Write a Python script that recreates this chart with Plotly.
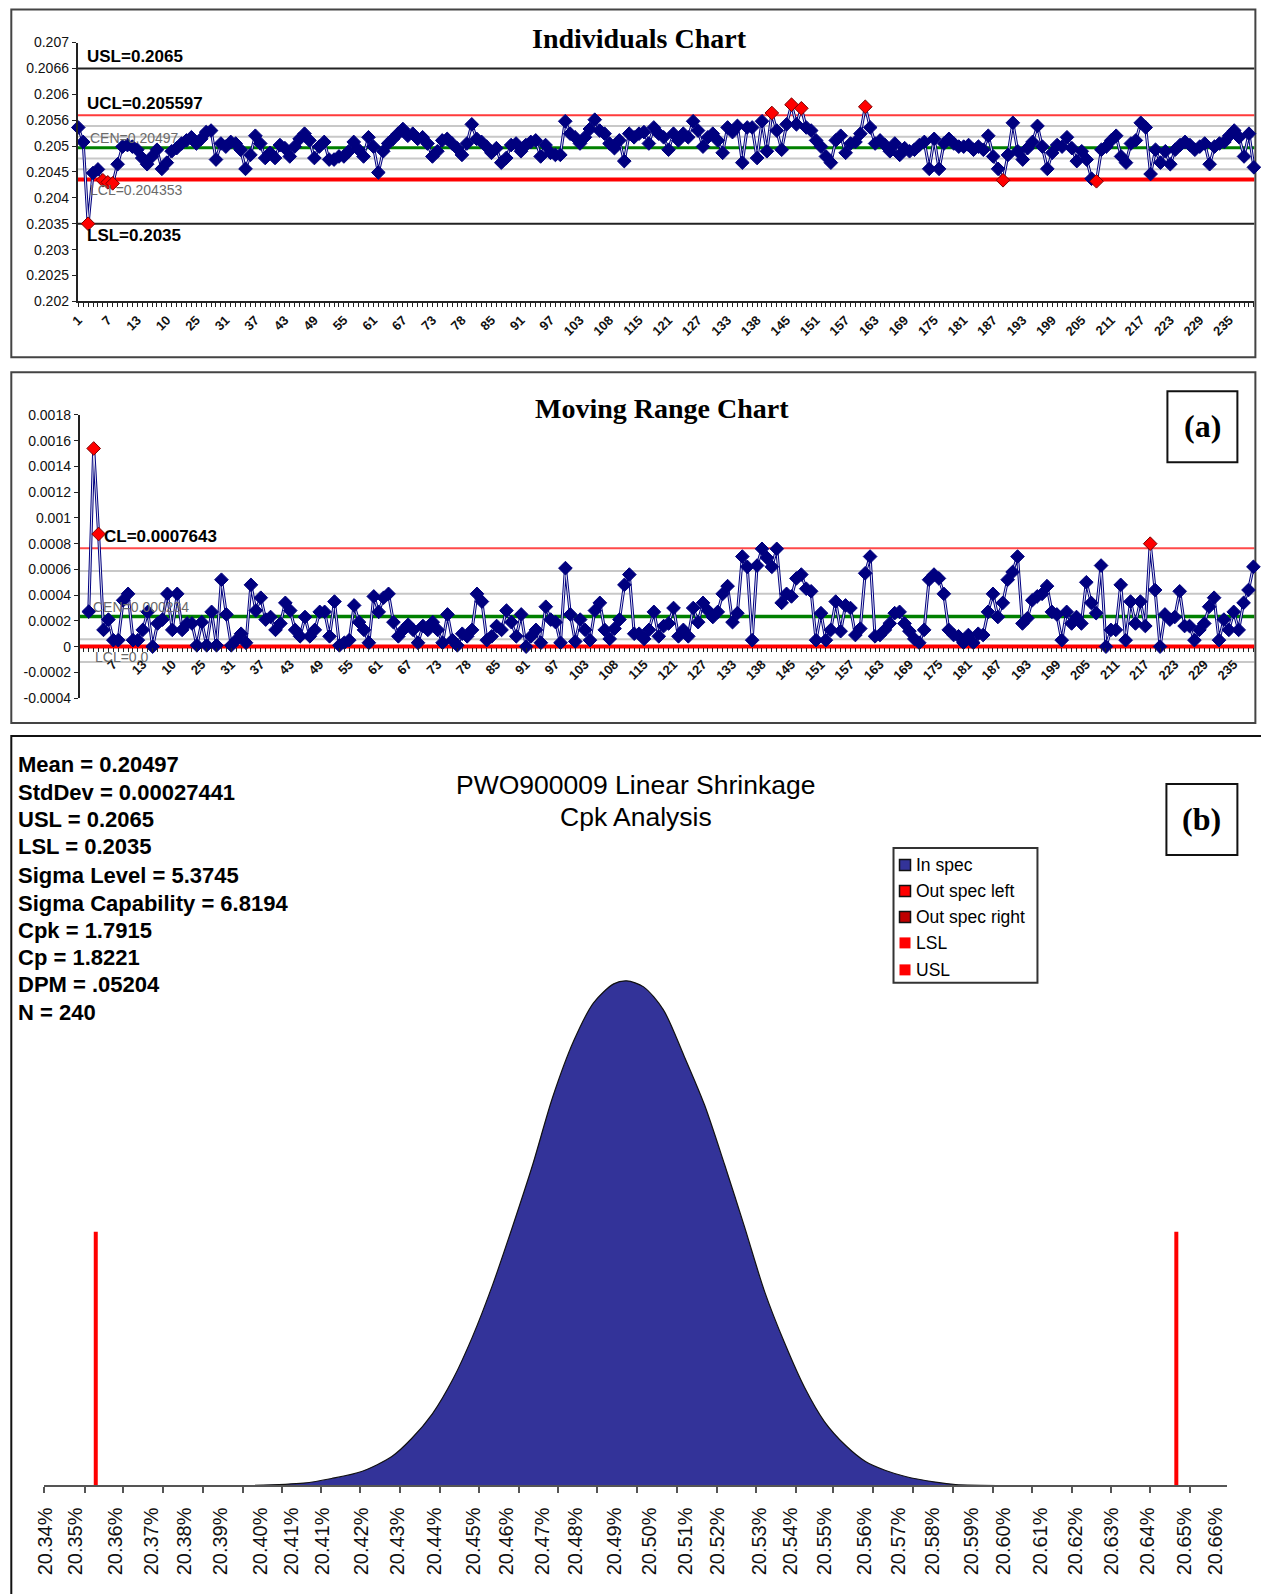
import plotly.graph_objects as go

W, H = 1261, 1594
# observed page-to-photo mapping (offset and scale) compensated here
OX, SX, OY, SY = 9.2, 0.9924, 8.4, 0.9907
def fx(t): return (t - OX) / SX
def fy(t): return (t - OY) / SY
def px(x): return fx(x) / W
def py(y): return 1 - fy(y) / H

SANS = "Liberation Sans, Arial, sans-serif"
SERIF = "Liberation Serif, Times New Roman, serif"
NARROW = "Liberation Sans Narrow, Arial Narrow, Liberation Sans, sans-serif"

# ---------------- Individuals chart data ----------------
ind_cats = list(range(1, 241))
ind_values = [
    0.20536, 0.20508, 0.20350, 0.20448, 0.20455, 0.20434, 0.20430, 0.20428, 0.20465, 0.20499,
    0.20502, 0.20499, 0.20493, 0.20477, 0.20465, 0.20480, 0.20493, 0.20456, 0.20468, 0.20490,
    0.20496, 0.20505, 0.20511, 0.20517, 0.20505, 0.20514, 0.20527, 0.20530, 0.20474, 0.20505,
    0.20499, 0.20508, 0.20505, 0.20493, 0.20456, 0.20483, 0.20520, 0.20505, 0.20477, 0.20487,
    0.20477, 0.20502, 0.20496, 0.20480, 0.20499, 0.20514, 0.20524, 0.20511, 0.20477, 0.20499,
    0.20508, 0.20474, 0.20474, 0.20480, 0.20480, 0.20490, 0.20508, 0.20493, 0.20480, 0.20517,
    0.20499, 0.20449, 0.20490, 0.20505, 0.20514, 0.20524, 0.20533, 0.20520, 0.20524, 0.20514,
    0.20517, 0.20505, 0.20480, 0.20490, 0.20511, 0.20514, 0.20505, 0.20496, 0.20483, 0.20505,
    0.20542, 0.20514, 0.20508, 0.20499, 0.20487, 0.20496, 0.20468, 0.20477, 0.20502, 0.20505,
    0.20490, 0.20502, 0.20508, 0.20511, 0.20480, 0.20502, 0.20487, 0.20483, 0.20483, 0.20548,
    0.20524, 0.20517, 0.20505, 0.20517, 0.20533, 0.20551, 0.20530, 0.20524, 0.20505, 0.20496,
    0.20511, 0.20471, 0.20524, 0.20517, 0.20524, 0.20527, 0.20505, 0.20536, 0.20524, 0.20517,
    0.20493, 0.20524, 0.20511, 0.20524, 0.20517, 0.20548, 0.20530, 0.20499, 0.20517, 0.20524,
    0.20511, 0.20487, 0.20536, 0.20527, 0.20539, 0.20468, 0.20536, 0.20536, 0.20477, 0.20548,
    0.20490, 0.20564, 0.20530, 0.20493, 0.20542, 0.20580, 0.20542, 0.20573, 0.20536, 0.20530,
    0.20511, 0.20499, 0.20480, 0.20468, 0.20511, 0.20520, 0.20487, 0.20505, 0.20508, 0.20524,
    0.20576, 0.20536, 0.20505, 0.20511, 0.20502, 0.20490, 0.20505, 0.20483, 0.20496, 0.20490,
    0.20493, 0.20502, 0.20508, 0.20456, 0.20514, 0.20456, 0.20505, 0.20514, 0.20505, 0.20499,
    0.20499, 0.20502, 0.20493, 0.20499, 0.20493, 0.20520, 0.20480, 0.20456, 0.20434, 0.20483,
    0.20545, 0.20490, 0.20474, 0.20496, 0.20508, 0.20539, 0.20499, 0.20456, 0.20487, 0.20502,
    0.20499, 0.20517, 0.20496, 0.20471, 0.20490, 0.20474, 0.20437, 0.20432, 0.20493, 0.20499,
    0.20511, 0.20520, 0.20480, 0.20468, 0.20505, 0.20511, 0.20545, 0.20536, 0.20446, 0.20493,
    0.20468, 0.20490, 0.20465, 0.20493, 0.20502, 0.20508, 0.20502, 0.20493, 0.20499, 0.20505,
    0.20465, 0.20499, 0.20505, 0.20508, 0.20520, 0.20530, 0.20517, 0.20480, 0.20524, 0.20459,
]
IND_USL, IND_UCL, IND_CEN, IND_LCL, IND_LSL = 0.2065, 0.205597, 0.20497, 0.204353, 0.2035

ind_label_pos = [1, 7, 13, 19, 25, 31, 37, 43, 49, 55, 61, 67, 73, 79, 85, 91, 97, 103, 109, 115,
                 121, 127, 133, 139, 145, 151, 157, 163, 169, 175, 181, 187, 193, 199, 205, 211,
                 217, 223, 229, 235]
ind_labels = ["1", "7", "13", "10", "25", "31", "37", "43", "49", "55", "61", "67", "73", "78",
              "85", "91", "97", "103", "108", "115", "121", "127", "133", "138", "145", "151",
              "157", "163", "169", "175", "181", "187", "193", "199", "205", "211", "217", "223",
              "229", "235"]
ind_ytick_vals = [0.207, 0.2065, 0.206, 0.2055, 0.205, 0.2045, 0.204, 0.2035, 0.203, 0.2025, 0.202]
ind_ytick_text = ["0.207", "0.2066", "0.206", "0.2056", "0.205", "0.2045", "0.204", "0.2035",
                  "0.203", "0.2025", "0.202"]

# ---------------- Moving range data ----------------
mr_cats = list(range(2, 240))
mr_values = [
    0.000272, 0.00154, 0.000875, 0.00013, 0.00021, 0.00005, 0.00005, 0.00036, 0.00041, 0.00005,
    0.00005, 0.00013, 0.00027, 0.00000, 0.00018, 0.00021, 0.00041, 0.00013, 0.00041, 0.00013,
    0.00018, 0.00018, 0.00001, 0.00019, 0.00001, 0.00027, 0.00001, 0.00052, 0.00025, 0.00001,
    0.00005, 0.00010, 0.00003, 0.00048, 0.00028, 0.00038, 0.00021, 0.00023, 0.00013, 0.00018,
    0.00034, 0.00028, 0.00013, 0.00008, 0.00023, 0.00008, 0.00013, 0.00027, 0.00027, 0.00008,
    0.00035, 0.00001, 0.00003, 0.00005, 0.00032, 0.00019, 0.00013, 0.00003, 0.00039, 0.00027,
    0.00038, 0.00041, 0.00019, 0.00008, 0.00013, 0.00017, 0.00013, 0.00003, 0.00016, 0.00013,
    0.00019, 0.00013, 0.00003, 0.00025, 0.00005, 0.00001, 0.00010, 0.00008, 0.00013, 0.00041,
    0.00035, 0.00005, 0.00008, 0.00016, 0.00013, 0.00028, 0.00019, 0.00008, 0.00025, 0.00000,
    0.00008, 0.00013, 0.00003, 0.00031, 0.00021, 0.00019, 0.00003, 0.00061, 0.00025, 0.00004,
    0.00021, 0.00013, 0.00005, 0.00028, 0.00034, 0.00013, 0.00006, 0.00014, 0.00021, 0.00048,
    0.00056, 0.00010, 0.00010, 0.00006, 0.00013, 0.00027, 0.00008, 0.00016, 0.00018, 0.00030,
    0.00008, 0.00013, 0.00008, 0.00030, 0.00019, 0.00034, 0.00028, 0.00023, 0.00027, 0.00041,
    0.00047, 0.00019, 0.00026, 0.00070, 0.00062, 0.00005, 0.00063, 0.00076, 0.00069, 0.00062,
    0.00076, 0.00034, 0.00041, 0.00039, 0.00053, 0.00056, 0.00045, 0.00043, 0.00005, 0.00026,
    0.00005, 0.00013, 0.00035, 0.00012, 0.00032, 0.00030, 0.00009, 0.00014, 0.00057, 0.00070,
    0.00008, 0.00009, 0.00013, 0.00018, 0.00026, 0.00027, 0.00018, 0.00012, 0.00006, 0.00003,
    0.00013, 0.00052, 0.00056, 0.00053, 0.00041, 0.00013, 0.00009, 0.00008, 0.00003, 0.00009,
    0.00003, 0.00010, 0.00009, 0.00027, 0.00041, 0.00023, 0.00034, 0.00052, 0.00058, 0.00070,
    0.00018, 0.00022, 0.00036, 0.00039, 0.00041, 0.00047, 0.00027, 0.00025, 0.00005, 0.00027,
    0.00018, 0.00023, 0.00018, 0.00050, 0.00034, 0.00026, 0.00063, 0.00000, 0.00013, 0.00013,
    0.00048, 0.00005, 0.00035, 0.00018, 0.00035, 0.00016, 0.00080, 0.00044, 0.00000, 0.00025,
    0.00021, 0.00023, 0.00043, 0.00016, 0.00016, 0.00005, 0.00013, 0.00018, 0.00031, 0.00038,
    0.00005, 0.00021, 0.00013, 0.00027, 0.00013, 0.00034, 0.00044, 0.00062,
]
MR_UCL, MR_CEN, MR_LCL = 0.0007643, 0.000234, 0.0
mr_label_pos = ind_label_pos[1:]
mr_labels = ind_labels[1:]
mr_ytick_vals = [0.0018, 0.0016, 0.0014, 0.0012, 0.001, 0.0008, 0.0006, 0.0004, 0.0002, 0.0,
                 -0.0002, -0.0004]
mr_ytick_text = ["0.0018", "0.0016", "0.0014", "0.0012", "0.001", "0.0008", "0.0006", "0.0004",
                 "0.0002", "0", "-0.0002", "-0.0004"]

# ---------------- Cpk curve data (percent units) ----------------
curve_x = [20.3916, 20.4077, 20.4155, 20.4238, 20.4322, 20.4377, 20.4435, 20.4491, 20.4546,
           20.4602, 20.4657, 20.4713, 20.4768, 20.4827, 20.4882, 20.4938, 20.4974, 20.5021,
           20.5076, 20.5132, 20.5190, 20.5246, 20.5301, 20.5357, 20.5412, 20.5468, 20.5523,
           20.5582, 20.5637, 20.5693, 20.5748, 20.5831, 20.5887, 20.6028]
curve_h = [0, 2.4, 7, 14, 29, 47, 72, 106, 149, 201, 259, 321, 388, 445, 483, 502, 505, 499,
           476, 431, 381, 321, 259, 194, 143, 98, 64, 40, 24, 15, 9, 3.4, 1, 0]
CPK_LSL, CPK_USL = 20.35, 20.65
spec_bar_height = 254
cpk_tick_vals = [20.3356, 20.3470, 20.3575, 20.3686, 20.3797, 20.3908, 20.4016, 20.4125,
                 20.4233, 20.4344, 20.4455, 20.4563, 20.4674, 20.4782, 20.4893, 20.5002,
                 20.5113, 20.5224, 20.5332, 20.5443, 20.5548, 20.5659, 20.5770, 20.5879,
                 20.5990, 20.6098, 20.6209, 20.6320, 20.6428, 20.6539]
cpk_label_pos = [20.3361, 20.3444, 20.3556, 20.3655, 20.3747, 20.3847, 20.3958, 20.4044,
                 20.4130, 20.4238, 20.4338, 20.4441, 20.4549, 20.4641, 20.4741, 20.4832,
                 20.4940, 20.5038, 20.5137, 20.5226, 20.5343, 20.5429, 20.5523, 20.5634,
                 20.5729, 20.5823, 20.5931, 20.6020, 20.6123, 20.6220, 20.6320, 20.6420,
                 20.6522, 20.6609]
cpk_labels = ["20.34%", "20.35%", "20.36%", "20.37%", "20.38%", "20.39%", "20.40%", "20.41%",
              "20.41%", "20.42%", "20.43%", "20.44%", "20.45%", "20.46%", "20.47%", "20.48%",
              "20.49%", "20.50%", "20.51%", "20.52%", "20.53%", "20.54%", "20.55%", "20.56%",
              "20.57%", "20.58%", "20.59%", "20.60%", "20.61%", "20.62%", "20.63%", "20.64%",
              "20.65%", "20.66%"]
stats_lines = ["Mean = 0.20497", "StdDev = 0.00027441", "USL = 0.2065", "LSL = 0.2035",
               "Sigma Level = 5.3745", "Sigma Capability = 6.8194", "Cpk = 1.7915",
               "Cp = 1.8221", "DPM = .05204", "N = 240"]
legend_items = ["In spec", "Out spec left", "Out spec right", "LSL", "USL"]
legend_colors = ["#333399", "#FF0000", "#C00000", "#FF0000", "#FF0000"]
legend_borders = ["#111111", "#111111", "#111111", None, None]

NAVY = "#00007F"

fig = go.Figure()

# Individuals traces
ind_colors = ["#FF0000" if (v > IND_UCL or v < IND_LCL) else NAVY for v in ind_values]
ind_lcolors = ["#7A0000" if (v > IND_UCL or v < IND_LCL) else NAVY for v in ind_values]
fig.add_trace(go.Scatter(x=ind_cats, y=ind_values, mode="lines", xaxis="x", yaxis="y",
                         line=dict(color=NAVY, width=3), hoverinfo="skip", cliponaxis=False))
fig.add_trace(go.Scatter(x=ind_cats, y=ind_values, mode="lines", xaxis="x", yaxis="y",
                         line=dict(color="white", width=0.9), hoverinfo="skip", cliponaxis=False))
fig.add_trace(go.Scatter(x=ind_cats, y=ind_values, mode="markers", xaxis="x", yaxis="y",
                         marker=dict(symbol="diamond", size=10.5, color=ind_colors,
                                     line=dict(color=ind_lcolors, width=1)),
                         cliponaxis=False))

# Moving range traces
mr_colors = ["#FF0000" if v > MR_UCL else NAVY for v in mr_values]
mr_lcolors = ["#7A0000" if v > MR_UCL else NAVY for v in mr_values]
fig.add_trace(go.Scatter(x=mr_cats, y=mr_values, mode="lines", xaxis="x2", yaxis="y2",
                         line=dict(color=NAVY, width=3), hoverinfo="skip", cliponaxis=False))
fig.add_trace(go.Scatter(x=mr_cats, y=mr_values, mode="lines", xaxis="x2", yaxis="y2",
                         line=dict(color="white", width=0.9), hoverinfo="skip", cliponaxis=False))
fig.add_trace(go.Scatter(x=mr_cats, y=mr_values, mode="markers", xaxis="x2", yaxis="y2",
                         marker=dict(symbol="diamond", size=10.5, color=mr_colors,
                                     line=dict(color=mr_lcolors, width=1)),
                         cliponaxis=False))

# Cpk curve
fig.add_trace(go.Scatter(x=curve_x, y=curve_h, mode="lines", xaxis="x3", yaxis="y3",
                         fill="tozeroy", fillcolor="#333399",
                         line=dict(color="#111111", width=1.2, shape="spline", smoothing=0.8),
                         hoverinfo="skip"))
for s in (CPK_LSL, CPK_USL):
    fig.add_trace(go.Scatter(x=[s, s], y=[0, spec_bar_height], mode="lines", xaxis="x3",
                             yaxis="y3", line=dict(color="#FF0000", width=4), hoverinfo="skip"))

shapes = []
annotations = []

def hline(yval, yref, xref, color, width):
    shapes.append(dict(type="line", xref=xref + " domain", yref=yref, x0=0, x1=1,
                       y0=yval, y1=yval, line=dict(color=color, width=width), layer="below"))

# Individuals control lines
ind_step = (IND_UCL - IND_CEN) / 3
for k in (1, 2):
    hline(IND_CEN + k * ind_step, "y", "x", "#C8C8C8", 2)
    hline(IND_CEN - k * ind_step, "y", "x", "#C8C8C8", 2)
hline(IND_USL, "y", "x", "#222222", 2)
hline(IND_LSL, "y", "x", "#222222", 2)
hline(IND_UCL, "y", "x", "#FF3B3B", 2)
hline(IND_CEN, "y", "x", "#008000", 3)
hline(IND_LCL, "y", "x", "#FF0000", 4)

# MR control lines
mr_step = (MR_UCL - MR_CEN) / 3
for k in (1, 2):
    hline(MR_CEN + k * mr_step, "y2", "x2", "#C8C8C8", 2)
    hline(MR_CEN - k * mr_step, "y2", "x2", "#C8C8C8", 2)
hline(MR_UCL, "y2", "x2", "#FF4A4A", 2)
hline(MR_CEN, "y2", "x2", "#008000", 3.5)
hline(MR_LCL, "y2", "x2", "#FF0000", 4)

# panel boxes
def rect(x0, y0, x1, y1, color="#444444", width=2, fill=None, layer="below"):
    d = dict(type="rect", xref="paper", yref="paper", x0=px(x0), x1=px(x1), y0=py(y1),
             y1=py(y0), line=dict(color=color, width=width), layer=layer)
    if fill:
        d["fillcolor"] = fill
    shapes.append(d)

rect(10.5, 10, 1255, 358)
rect(10.5, 373, 1255, 724)
rect(10.5, 737, 1275, 1620, color="#111111")
rect(1167, 392, 1237, 463, color="#111111", layer="above")
rect(1166, 785, 1237, 856, color="#111111", layer="above")
rect(893, 849, 1037, 984, color="#333333", fill="white", layer="above")

def ann(x, y, text, size, family=SANS, color="#000000", xanchor="left", yanchor="middle",
        xref="paper", yref="paper", bold=False):
    annotations.append(dict(x=x, y=y, xref=xref, yref=yref, text=text, showarrow=False,
                            xanchor=xanchor, yanchor=yanchor,
                            font=dict(family=family, size=size, color=color,
                                      weight="bold" if bold else "normal")))

# titles
ann(px(639), py(39), "Individuals Chart", 28, SERIF, xanchor="center", bold=True)
ann(px(661), py(409), "Moving Range Chart", 28, SERIF, xanchor="center", bold=True)
ann(px(1202), py(427), "(a)", 32, SERIF, xanchor="center", bold=True)
ann(px(1201.5), py(820), "(b)", 32, SERIF, xanchor="center", bold=True)

# Individuals labels
ann(px(84), IND_USL, "USL=0.2065", 17, yref="y", yanchor="bottom", bold=True)
ann(px(84), IND_UCL, "UCL=0.205597", 17, yref="y", yanchor="bottom", bold=True)
ann(px(87), IND_CEN, "CEN=0.20497", 14, yref="y", yanchor="bottom", color="#6A6A6A")
ann(px(87), IND_LCL, "LCL=0.204353", 14, yref="y", yanchor="top", color="#6A6A6A")
ann(px(84), IND_LSL, "LSL=0.2035", 17, yref="y", yanchor="top", bold=True)

# MR labels
ann(px(101), MR_UCL, "CL=0.0007643", 17, yref="y2", yanchor="bottom", bold=True)
ann(px(90), MR_CEN, "CEN=0.000234", 14, yref="y2", yanchor="bottom", color="#6A6A6A")
ann(px(92), MR_LCL, "LCL=0.0", 14, yref="y2", yanchor="top", color="#6A6A6A")

# Cpk title & stats
ann(px(635), py(786), "PWO900009 Linear Shrinkage", 26.5, xanchor="center")
ann(px(635), py(818), "Cpk Analysis", 26.5, xanchor="center")
stats_y = [765, 793, 821, 848, 877, 905, 932, 959, 986, 1014]
for t, yy in zip(stats_lines, stats_y):
    ann(px(15), py(yy), t, 22, NARROW, bold=True)

# manual legend
leg_y = [866, 892, 918, 944, 971]
for name, col, bcol, yy in zip(legend_items, legend_colors, legend_borders, leg_y):
    shapes.append(dict(type="rect", xref="paper", yref="paper", x0=px(899), x1=px(910),
                       y0=py(yy + 5.5), y1=py(yy - 5.5), fillcolor=col,
                       line=dict(color=bcol if bcol else col, width=1.5 if bcol else 0),
                       layer="above"))
    ann(px(914), py(yy), name, 17.5)

mr_y_dom = [py(699), py(415.7)]
mr_range = [-0.0004, 0.0018]
mr_axis_pos = mr_y_dom[0] + (0 - mr_range[0]) / (mr_range[1] - mr_range[0]) * (mr_y_dom[1] - mr_y_dom[0])

tickfont_b = dict(family=SANS, size=13, color="#111111", weight="bold")
yfont = dict(family=SANS, size=14, color="#111111")

fig.update_layout(
    width=W, height=H, margin=dict(l=0, r=0, t=0, b=0), autosize=False,
    paper_bgcolor="white", plot_bgcolor="rgba(0,0,0,0)", showlegend=False,
    shapes=shapes, annotations=annotations,
    xaxis=dict(domain=[px(77), px(1254)], range=[0.9, 240.1], anchor="y",
               showline=True, linecolor="#222222", linewidth=2, showgrid=False, zeroline=False,
               ticks="outside", ticklen=4, tickwidth=1, tickcolor="#222222",
               tickvals=ind_label_pos, ticktext=ind_labels, tickangle=-45, tickfont=tickfont_b,
               minor=dict(ticks="outside", ticklen=4, tickwidth=1, tickcolor="#222222",
                          dtick=1, tick0=1)),
    yaxis=dict(domain=[py(302), py(43)], range=[0.202, 0.207], anchor="x",
               showline=True, linecolor="#222222", linewidth=2, showgrid=False, zeroline=False,
               ticks="outside", ticklen=4, tickcolor="#222222",
               tickvals=ind_ytick_vals, ticktext=ind_ytick_text, tickfont=yfont),
    xaxis2=dict(domain=[px(79), px(1254)], range=[0.17, 239.2], anchor="free",
                position=mr_axis_pos, showline=False, showgrid=False, zeroline=False,
                ticks="outside", ticklen=4, tickwidth=1, tickcolor="#222222",
                tickvals=mr_label_pos, ticktext=mr_labels, tickangle=-45, tickfont=tickfont_b,
                minor=dict(ticks="outside", ticklen=4, tickwidth=1, tickcolor="#222222",
                           dtick=1, tick0=1)),
    yaxis2=dict(domain=mr_y_dom, range=mr_range, anchor="x2",
                showline=True, linecolor="#222222", linewidth=2, showgrid=False, zeroline=False,
                ticks="outside", ticklen=4, tickcolor="#222222",
                tickvals=mr_ytick_vals, ticktext=mr_ytick_text, tickfont=yfont),
    xaxis3=dict(domain=[px(43), px(1227)], range=[20.33557, 20.66418], anchor="y3",
                showline=True, linecolor="#555555", linewidth=2, showgrid=False, zeroline=False,
                ticks="outside", ticklen=12, tickcolor="rgba(0,0,0,0)",
                tickvals=cpk_label_pos, ticktext=cpk_labels, tickangle=-90,
                tickfont=dict(family=SANS, size=20, color="#111111"),
                minor=dict(tickmode="array", tickvals=cpk_tick_vals, ticks="outside", ticklen=6,
                           tickwidth=2, tickcolor="#555555")),
    yaxis3=dict(domain=[py(1487), py(960)], range=[0, 527], anchor="x3", visible=False),
)

fig.write_html(
    "out.html",
    config={"displayModeBar": False, "staticPlot": True},
    post_script="document.body.style.margin='0';document.body.style.padding='0';"
                "document.body.style.overflow='hidden';"
                "document.documentElement.style.overflow='hidden';",
)
